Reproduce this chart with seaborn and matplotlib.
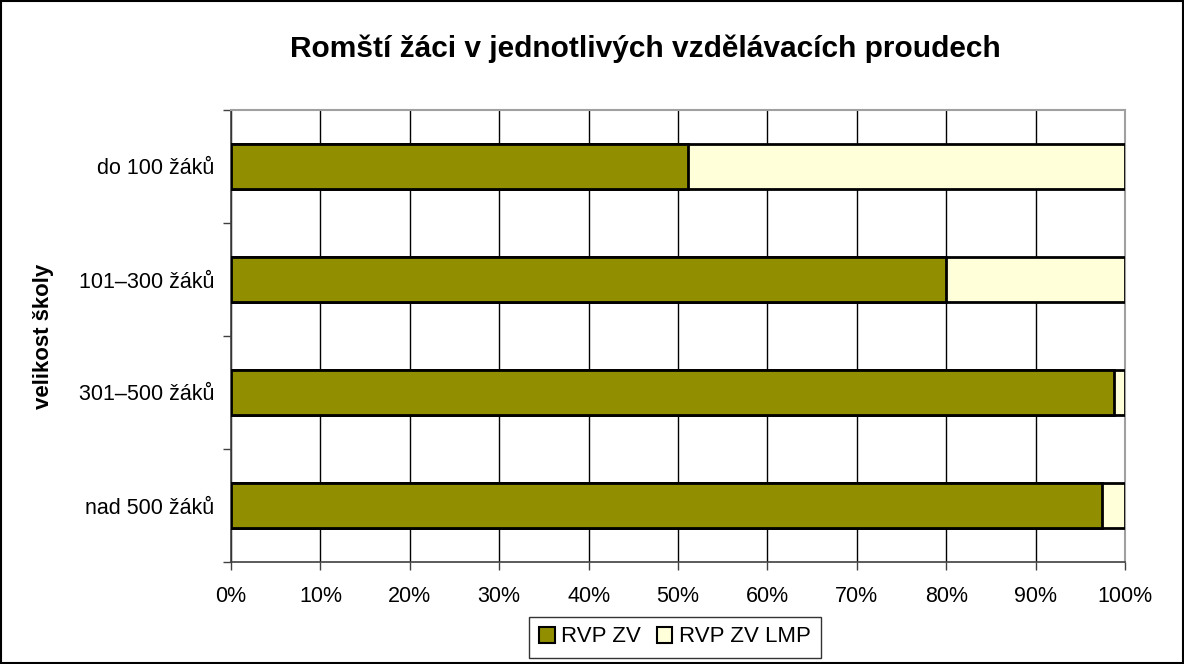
import numpy as np
import pandas as pd
import matplotlib
matplotlib.use("Agg")
import matplotlib.pyplot as plt
import seaborn as sns
from matplotlib.patches import Patch, Rectangle
from matplotlib.ticker import FuncFormatter, FixedLocator

categories = ["do 100 žáků", "101–300 žáků", "301–500 žáků", "nad 500 žáků"]
rvp_zv = [51.1, 80.0, 98.8, 97.4]
rvp_zv_lmp = [100 - v for v in rvp_zv]
series_names = ["RVP ZV", "RVP ZV LMP"]

df = pd.DataFrame({"kat": categories, "zv": rvp_zv, "lmp": rvp_zv_lmp})
df["total"] = df["zv"] + df["lmp"]

olive = "#918E00"
cream = "#FFFFD9"

sns.set_theme(style="white")
plt.rcParams["font.family"] = ["Liberation Sans", "DejaVu Sans"]
plt.rcParams["text.color"] = "black"
plt.rcParams["xtick.color"] = "black"
plt.rcParams["ytick.color"] = "black"
plt.rcParams["axes.labelcolor"] = "black"

fig = plt.figure(figsize=(11.84, 6.64), dpi=100)
ax = fig.add_axes([231 / 1184, 1 - 562 / 664, (1125 - 231) / 1184, (562 - 110) / 664])

# stacked: full bar first, then the first series on top
sns.barplot(data=df, x="total", y="kat", color=cream, edgecolor="black",
            linewidth=2, width=0.4, ax=ax, saturation=1, zorder=3)
sns.barplot(data=df, x="zv", y="kat", color=olive, edgecolor="black",
            linewidth=2, width=0.4, ax=ax, saturation=1, zorder=4)

ax.set_xlim(0, 100)
ax.set_ylim(3.5, -0.5)
ax.set_xticks(np.arange(0, 101, 10))
ax.xaxis.set_major_formatter(FuncFormatter(lambda v, p: f"{int(v)}%"))
ax.grid(axis="x", color="black", linewidth=1, zorder=0)
ax.grid(axis="y", visible=False)

ax.set_yticks(range(len(categories)))
ax.set_yticklabels(categories)
ax.yaxis.set_minor_locator(FixedLocator([-0.5, 0.5, 1.5, 2.5, 3.5]))
ax.tick_params(axis="y", which="major", length=0, pad=12, labelsize=15.5)
ax.tick_params(axis="y", which="minor", left=True, length=6, width=1, color="#404040")
ax.tick_params(axis="x", which="major", bottom=True, length=6, width=1, color="#404040",
               labelsize=15.5, pad=11)

for side in ["left", "bottom"]:
    ax.spines[side].set_color("#404040")
    ax.spines[side].set_linewidth(1.2)
for side in ["top", "right"]:
    ax.spines[side].set_color("#A0A0A0")
    ax.spines[side].set_linewidth(1.5)

ax.set_xlabel("")
ax.set_ylabel("velikost školy", fontsize=16, fontweight="bold")
ax.yaxis.set_label_coords(-0.198, 0.5)

fig.text(645 / 1184, 1 - 49 / 664, "Romští žáci v jednotlivých vzdělávacích proudech",
         ha="center", va="center", fontsize=21.5, fontweight="bold")

handles = [Patch(facecolor=olive, edgecolor="black", linewidth=1.5),
           Patch(facecolor=cream, edgecolor="black", linewidth=1.5)]
leg = fig.legend(handles, series_names, loc="center", bbox_to_anchor=(675 / 1184, 1 - 637 / 664),
                 ncol=2, fontsize=16, frameon=True, fancybox=False, handlelength=0.7,
                 handleheight=0.7, handletextpad=0.3, columnspacing=0.7, borderpad=0.45)
leg.get_frame().set_edgecolor("black")
leg.get_frame().set_linewidth(1)

fig.patches.append(Rectangle((0.001, 0.001), 0.998, 0.997, transform=fig.transFigure,
                             fill=False, edgecolor="black", linewidth=1.5))

fig.savefig("out.png", dpi=100)
